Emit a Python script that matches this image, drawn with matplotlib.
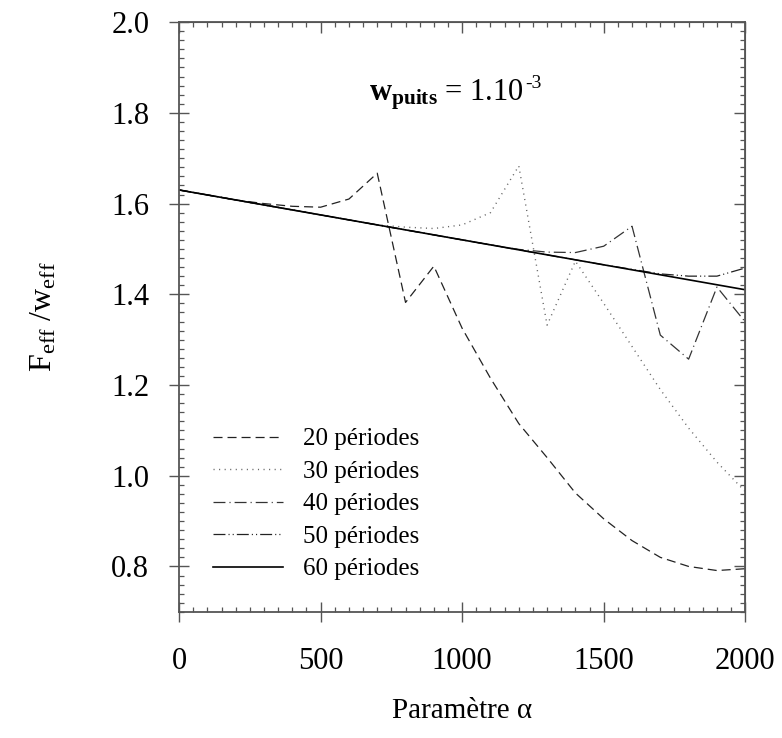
import matplotlib
matplotlib.use('Agg')
from matplotlib.pyplot import figure
from matplotlib.ticker import MultipleLocator

matplotlib.rcParams['font.family'] = ['Liberation Serif', 'DejaVu Serif']
matplotlib.rcParams['mathtext.fontset'] = 'custom'
matplotlib.rcParams['mathtext.rm'] = 'Liberation Serif'
matplotlib.rcParams['mathtext.it'] = 'Liberation Serif:italic'
matplotlib.rcParams['mathtext.bf'] = 'Liberation Serif:bold'
matplotlib.rcParams['lines.scale_dashes'] = False

# alpha parameter, steps of 100
alpha = [0, 100, 200, 300, 400, 500, 600, 700, 800, 900, 1000,
         1100, 1200, 1300, 1400, 1500, 1600, 1700, 1800, 1900, 2000]

p60 = [1.630, 1.619, 1.608, 1.597, 1.586, 1.575, 1.564, 1.553, 1.542, 1.531, 1.520,
       1.509, 1.498, 1.487, 1.476, 1.465, 1.454, 1.443, 1.432, 1.421, 1.410]
p50 = [1.630, 1.619, 1.608, 1.597, 1.586, 1.575, 1.564, 1.553, 1.542, 1.531, 1.520,
       1.509, 1.498, 1.487, 1.476, 1.465, 1.455, 1.445, 1.440, 1.440, 1.458]
p40 = [1.630, 1.619, 1.608, 1.597, 1.586, 1.575, 1.564, 1.553, 1.542, 1.531, 1.520,
       1.509, 1.499, 1.493, 1.492, 1.506, 1.550, 1.310, 1.257, 1.416, 1.339]
p30 = [1.630, 1.619, 1.608, 1.597, 1.586, 1.575, 1.564, 1.553, 1.548, 1.545, 1.553,
       1.580, 1.683, 1.332, 1.473, 1.380, 1.285, 1.190, 1.105, 1.030, 0.965]
p20 = [1.630, 1.619, 1.608, 1.600, 1.594, 1.592, 1.610, 1.667, 1.382, 1.462, 1.325,
       1.215, 1.115, 1.040, 0.962, 0.905, 0.857, 0.820, 0.800, 0.791, 0.795]

series = [
    (p20, '20 périodes', (0, (6.5, 3.6)), '#222222', 0.9),
    (p30, '30 périodes', (0, (0.8, 3.2)), '#666666', 1.0),
    (p40, '40 périodes', (0, (8.6, 2.9, 0.8, 2.9)), '#333333', 0.9),
    (p50, '50 périodes', (0, (8.6, 2.2, 0.8, 2.2, 0.8, 2.2)), '#222222', 0.9),
    (p60, '60 périodes', '-', '#000000', 1.2),
]

fig = figure(figsize=(7.82, 7.38), dpi=100)
ax = fig.add_axes([0.229, 0.171, 0.724, 0.799])

for ys, lab, ls, col, lw in series:
    ax.plot(alpha, ys, linestyle=ls, color=col, linewidth=lw, label=lab)

ax.set_xlim(0, 2000)
ax.set_ylim(0.7, 2.0)
ax.xaxis.set_major_locator(MultipleLocator(500))
ax.xaxis.set_minor_locator(MultipleLocator(50))
ax.yaxis.set_minor_locator(MultipleLocator(0.02))
ax.set_yticks([0.8, 1.0, 1.2, 1.4, 1.6, 1.8, 2.0])
ax.set_yticklabels(['0.8', '1.0', '1.2', '1.4', '1.6', '1.8', '2.0'])

spine_col = '#555555'
for s in ax.spines.values():
    s.set_color(spine_col)
    s.set_linewidth(1.3)

ax.tick_params(which='major', direction='inout', length=15, width=1.0,
               color=spine_col, labelsize=22, top=False, right=False)
ax.tick_params(axis='y', which='major', pad=14)
ax.tick_params(axis='x', which='major', pad=18)
ax.tick_params(which='minor', direction='in', length=3.6, width=0.9,
               color=spine_col, top=True, right=True)

sec_y = ax.secondary_yaxis('right')
sec_y.set_yticks([0.8, 1.0, 1.2, 1.4, 1.6, 1.8, 2.0])
sec_y.tick_params(direction='in', length=8, width=1.0, color=spine_col, labelright=False)
sec_y.spines['right'].set_color(spine_col)
sec_x = ax.secondary_xaxis('top')
sec_x.set_xticks([0, 500, 1000, 1500, 2000])
sec_x.tick_params(direction='in', length=8, width=1.0, color=spine_col, labeltop=False)
sec_x.spines['top'].set_color(spine_col)

ax.set_xlabel('Paramètre α', fontsize=21, labelpad=16)
ax.set_ylabel(r'F$_{\rm eff}$ /w$_{\rm eff}$', fontsize=23, labelpad=38)

note = ax.text(670, 1.84, r'$\mathbf{w}_{\mathbf{puits}}$ = 1.10', fontsize=22,
               ha='left', va='center')
fig.canvas.draw()
bb = note.get_window_extent().transformed(ax.transData.inverted())
ax.text(bb.x1 + 5, 1.865, '-3', fontsize=14, ha='left', va='center')

ax.legend(loc='lower left', bbox_to_anchor=(0.02, 0.015), frameon=False,
          fontsize=18, handlelength=2.8, handletextpad=0.8, labelspacing=0.4)

fig.savefig('out.png', dpi=100)
